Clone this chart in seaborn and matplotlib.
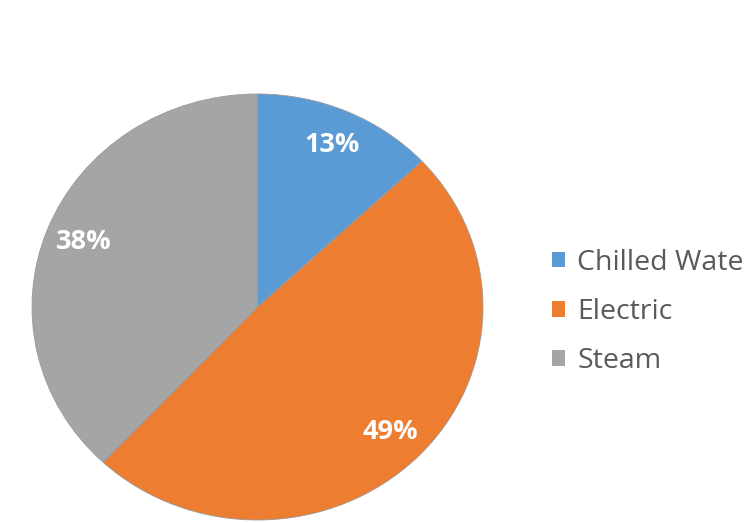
import matplotlib
matplotlib.use("Agg")
import matplotlib.pyplot as plt
from matplotlib.patches import Patch
import seaborn as sns

categories = ["Chilled Water", "Electric", "Steam"]
shares = [13, 49, 38]
colors = ["#5B9BD5", "#ED7D31", "#A5A5A5"]

sns.set_theme(style="white")
plt.rcParams["font.family"] = ["Open Sans", "DejaVu Sans"]

fig = plt.figure(figsize=(7.45, 5.23), dpi=100)
fig.patch.set_facecolor("white")
ax = fig.add_axes([32 / 745, 3 / 523, 451 / 745, 426 / 523])

wedges, texts, autotexts = ax.pie(
    shares,
    colors=colors,
    startangle=90,
    counterclock=False,
    autopct=lambda p: f"{p:.0f}%",
    pctdistance=0.83,
    wedgeprops=dict(linewidth=0.6, edgecolor="#9a9a9a"),
    textprops=dict(color="white", fontsize=19.5, fontweight="bold"),
)
ax.set_aspect("auto")
ax.set_xlim(-1, 1)
ax.set_ylim(-1, 1)
ax.axis("off")

handles = [Patch(facecolor=c, edgecolor="none") for c in colors]
fig.legend(
    handles, categories,
    loc="center left",
    bbox_to_anchor=(552 / 745, 1 - 312 / 523),
    frameon=False,
    fontsize=20.5,
    labelcolor="#595959",
    handlelength=0.47,
    handleheight=0.47,
    handletextpad=0.42,
    labelspacing=0.75,
    borderpad=0,
    borderaxespad=0,
)

fig.savefig("out.png", dpi=100, facecolor="white")
